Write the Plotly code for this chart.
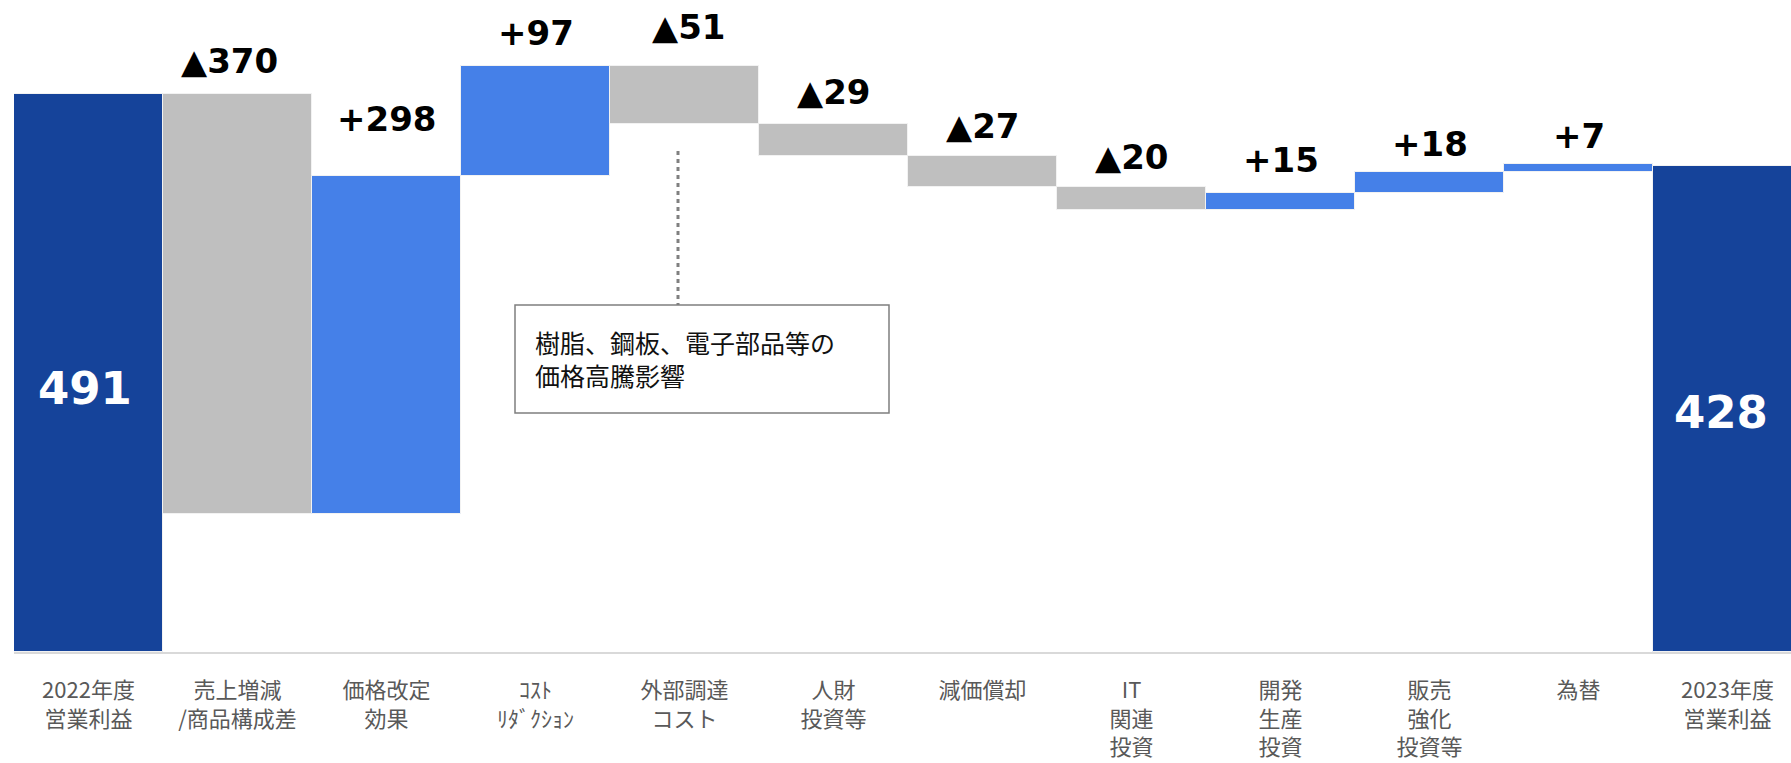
import plotly.graph_objects as go

# ---------------- data ----------------
categories = ["2022年度<br>営業利益", "売上増減<br>/商品構成差", "価格改定<br>効果", "ｺｽﾄ<br>ﾘﾀﾞｸｼｮﾝ",
              "外部調達<br>コスト", "人財<br>投資等", "減価償却", "IT<br>関連<br>投資",
              "開発<br>生産<br>投資", "販売<br>強化<br>投資等", "為替", "2023年度<br>営業利益"]
values = [491, -370, 298, 97, -51, -29, -27, -20, 15, 18, 7, 428]
measures = ["absolute"] + ["relative"] * 10 + ["absolute"]
value_labels = ["491", "▲370", "+298", "+97", "▲51", "▲29", "▲27", "▲20", "+15", "+18", "+7", "428"]
note_text = "樹脂、鋼板、電子部品等の<br>価格高騰影響"

# ---------------- style ----------------
NAVY = "#15439A"
BLUE = "#4580E8"
GREY = "#BFBFBF"
W, H = 1791, 763
ML, MB = 14, 111
BAR_PX = 149.0
PX_PER_UNIT = 1.1365
plot_w = W - ML
plot_h = H - MB
x_range = [-0.5, -0.5 + plot_w / BAR_PX]
y_range = [0, plot_h / PX_PER_UNIT]

def px2x(px):
    return (px - ML) / BAR_PX - 0.5

def px2y(py):
    return (plot_h - py) / PX_PER_UNIT

# label placement styling (px)
label_gap = [None, 20, 44, 20, 26, 19, 18, 18, 20, 16, 16, None]
label_xshift = [-4, -8, 0, 0, 4, 0, 0, 0, 0, 0, 0, -7]
total_yshift = {0: -16, 11: -4}

fig = go.Figure(go.Waterfall(
    x=categories, y=values, measure=measures,
    increasing=dict(marker=dict(color=BLUE, line=dict(color="#F2F2F2", width=1))),
    decreasing=dict(marker=dict(color=GREY, line=dict(color="#F2F2F2", width=1))),
    totals=dict(marker=dict(color=NAVY, line=dict(color="#F2F2F2", width=1))),
    connector=dict(visible=False),
    textposition="none",
    hoverinfo="skip",
))

annotations = []
running = 0
for i, (cat, v, m, lab) in enumerate(zip(categories, values, measures, value_labels)):
    if m == "absolute":
        running = v
        annotations.append(dict(
            x=cat, y=v / 2, xref="x", yref="y", text=lab, showarrow=False,
            xanchor="center", yanchor="middle", yshift=total_yshift.get(i, -8),
            xshift=label_xshift[i],
            font=dict(family="DejaVu Sans", size=45, color="white", weight="bold"),
        ))
    else:
        prev = running
        running = running + v
        top = max(prev, running)
        annotations.append(dict(
            x=cat, y=top, xref="x", yref="y", text=lab, showarrow=False,
            xanchor="center", yanchor="middle",
            yshift=label_gap[i] + 12.5, xshift=label_xshift[i],
            font=dict(family="DejaVu Sans", size=34, color="black", weight="bold"),
        ))

# note box text
annotations.append(dict(
    x=px2x(533), y=px2y(358.5), xref="x", yref="y", text=note_text, showarrow=False,
    xanchor="left", yanchor="middle", align="left",
    font=dict(family="Noto Sans CJK JP", size=25, color="#111111"),
))

shapes = [
    dict(type="line", xref="x", yref="y", x0=px2x(678), x1=px2x(678),
         y0=px2y(151), y1=px2y(305), line=dict(color="#808080", width=3, dash="4px,4px")),
    dict(type="rect", xref="x", yref="y", x0=px2x(515), x1=px2x(889),
         y0=px2y(413), y1=px2y(305), line=dict(color="#7F7F7F", width=1.5),
         fillcolor="rgba(0,0,0,0)"),
]

fig.update_layout(
    width=W, height=H,
    margin=dict(l=ML, r=0, t=0, b=MB, pad=0),
    paper_bgcolor="white", plot_bgcolor="white",
    waterfallgap=0,
    showlegend=False,
    annotations=annotations,
    shapes=shapes,
    xaxis=dict(
        range=x_range, showgrid=False, zeroline=False,
        showline=True, linecolor="#D9D9D9", linewidth=1.5,
        ticks="outside", ticklen=18, tickcolor="rgba(0,0,0,0)",
        tickfont=dict(family="Noto Sans CJK JP", size=22, color="#595959"),
        fixedrange=True,
    ),
    yaxis=dict(range=y_range, visible=False, showgrid=False, zeroline=False, fixedrange=True),
)

fig.write_html("out.html")
